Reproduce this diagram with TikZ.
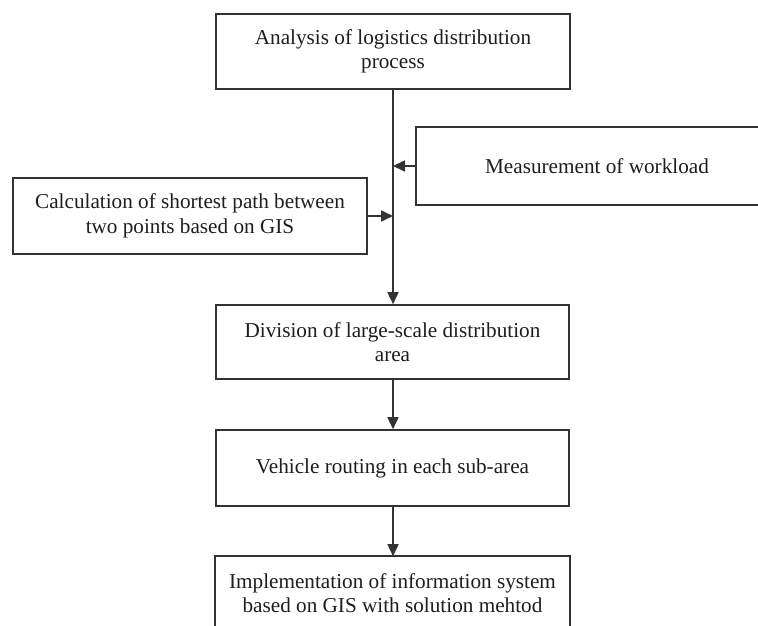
\documentclass[tikz,border=0pt]{standalone}
\usepackage{fontspec}
\setmainfont{Liberation Serif}
\usetikzlibrary{arrows.meta,calc}
\definecolor{linec}{HTML}{333333}
\definecolor{textc}{HTML}{1E1E1E}
\tikzset{
  boxstyle/.style={draw=linec, line width=1.6pt, align=center, text=textc,
    font=\fontsize{21.2}{24.5}\selectfont, inner sep=0pt},
  openbox/.style={boxstyle, draw=none},
  sidestyle/.style={draw=linec, line width=1.6pt},
  arr/.style={draw=linec, line width=1.6pt, -{Triangle[length=12pt,width=11pt]}}
}
\begin{document}
\begin{tikzpicture}[x=1pt,y=-1pt]
\useasboundingbox (0,0) rectangle (758,626);
\fill[white] (0,0) rectangle (758,626);
% main boxes
\node[boxstyle, minimum width=354pt, minimum height=75pt] (top) at (393,51.5)
  {Analysis of logistics distribution\\process};
\node[boxstyle, minimum width=354pt, minimum height=76pt] (calc) at (190,216)
  {Calculation of shortest path between\\two points based on GIS};
\node[openbox, minimum width=360pt, minimum height=76pt] (meas) at (597,166)
  {Measurement of workload};
\node[boxstyle, minimum width=353pt, minimum height=74pt] (div) at (392.5,342)
  {Division of large-scale distribution\\area};
\node[boxstyle, minimum width=353pt, minimum height=76pt] (veh) at (392.5,468)
  {Vehicle routing in each sub-area};
\node[openbox, minimum width=353pt, minimum height=52pt] (impl) at (392.5,593)
  {Implementation of information system\\based on GIS with solution mehtod};
% edges of the picture
\coordinate (E) at (758,0);
\coordinate (B) at (0,628);
\coordinate (implTop) at ($(impl.north)+(0,-10)$);
% open sides
\draw[sidestyle] (meas.north -| E) -- (meas.north west) -- (meas.south west) -- (meas.south -| E);
\draw[sidestyle] ($(impl.north west|-B)$) -- ($(impl.north west)+(0,-10)$) -- ($(impl.north east)+(0,-10)$) -- ($(impl.north east|-B)$);
% connectors
\draw[arr] (top.south) -- (top.south |- div.north);
\draw[arr] (meas.west) -- (meas.west -| top.south);
\draw[arr] (calc.east) -- (calc.east -| top.south);
\draw[arr] (div.south -| top.south) -- (veh.north -| top.south);
\draw[arr] (veh.south -| top.south) -- (implTop -| top.south);
\end{tikzpicture}
\end{document}
